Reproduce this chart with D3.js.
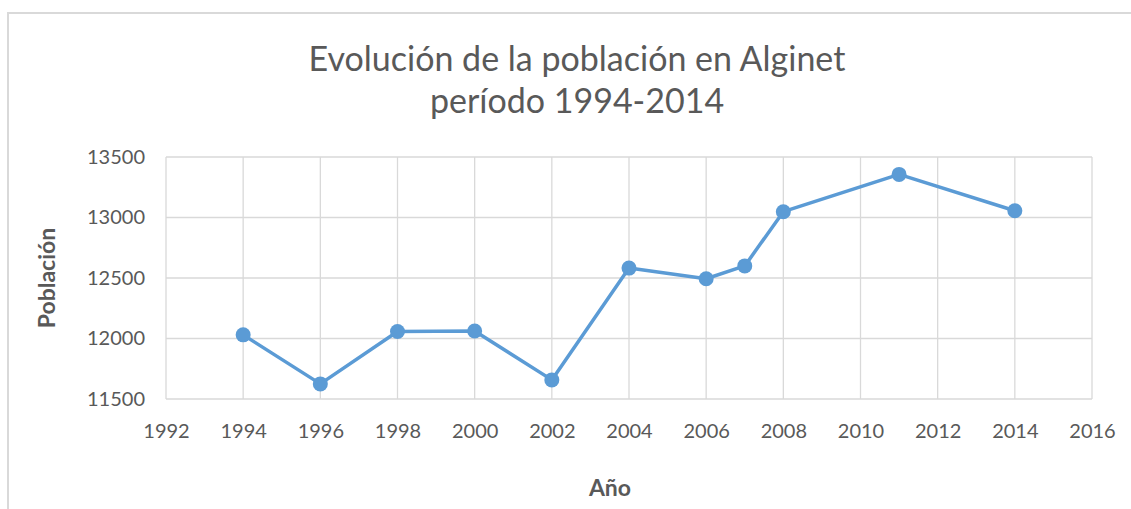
<!DOCTYPE html>
<html lang="es">
<head>
<meta charset="UTF-8">
<title>Evolución de la población en Alginet</title>
<script src="https://d3js.org/d3.v7.min.js"></script>
<style>
    body { margin: 0; background: #fff; }
    svg { display: block; font-family: Lato, "Open Sans", sans-serif; }
    .tick text { fill: #595959; font-size: 20px; font-family: Lato, sans-serif; }
    .axis-title { fill: #595959; font-size: 23px; font-weight: bold; }
    .chart-title { fill: #595959; font-size: 34px; font-weight: 400; }
</style>
</head>
<body>
<script>
    const years = [1994, 1996, 1998, 2000, 2002, 2004, 2006, 2007, 2008, 2011, 2014];
    const population = [12030, 11625, 12058, 12062, 11658, 12582, 12494, 12600, 13048, 13356, 13056];
    const xTicks = [1992, 1994, 1996, 1998, 2000, 2002, 2004, 2006, 2008, 2010, 2012, 2014, 2016];
    const yTicks = [11500, 12000, 12500, 13000, 13500];
    const titleLines = ['Evolución de la población en Alginet', 'período 1994-2014'];

    const width = 1131;
    const height = 509;
    const margin = {top: 157, right: 39, bottom: 110, left: 166};

    const svg = d3.select('body')
                  .append('svg')
                  .attr('width', width)
                  .attr('height', height);

    // chart frame (only top and left edges show in the picture)
    svg.append('path')
       .attr('d', `M8,${height} V13 H${width}`)
       .attr('fill', 'none')
       .attr('stroke', '#d9d9d9')
       .attr('stroke-width', 2);

    const x = d3.scaleLinear()
                .domain([1992, 2016])
                .range([margin.left, width - margin.right]);

    const y = d3.scaleLinear()
                .domain([11500, 13500])
                .range([height - margin.bottom, margin.top]);

    // gridlines
    svg.append('g')
       .selectAll('line')
       .data(xTicks)
       .join('line')
       .attr('x1', d => x(d)).attr('x2', d => x(d))
       .attr('y1', y(13500)).attr('y2', y(11500))
       .attr('stroke', '#d9d9d9')
       .attr('stroke-width', 1.3);

    svg.append('g')
       .selectAll('line')
       .data(yTicks)
       .join('line')
       .attr('x1', x(1992)).attr('x2', x(2016))
       .attr('y1', d => y(d)).attr('y2', d => y(d))
       .attr('stroke', '#d9d9d9')
       .attr('stroke-width', 1.3);

    // axes (labels only)
    const xAxis = svg.append('g')
       .attr('transform', `translate(0,${y(11500)})`)
       .call(d3.axisBottom(x).tickValues(xTicks).tickFormat(d3.format('d')).tickSize(0).tickPadding(25));
    xAxis.select('.domain').remove();

    const yAxis = svg.append('g')
       .attr('transform', `translate(${x(1992)},0)`)
       .call(d3.axisLeft(y).tickValues(yTicks).tickFormat(d3.format('d')).tickSize(0).tickPadding(21));
    yAxis.select('.domain').remove();
    svg.selectAll('g').attr('font-family', null).attr('font-size', null);

    // line + markers
    const points = years.map((yr, i) => ({year: yr, value: population[i]}));

    svg.append('path')
       .datum(points)
       .attr('fill', 'none')
       .attr('stroke', '#5b9bd5')
       .attr('stroke-width', 3.5)
       .attr('stroke-linejoin', 'round')
       .attr('d', d3.line().x(d => x(d.year)).y(d => y(d.value)));

    svg.append('g')
       .selectAll('circle')
       .data(points)
       .join('circle')
       .attr('cx', d => x(d.year))
       .attr('cy', d => y(d.value))
       .attr('r', 7.5)
       .attr('fill', '#5b9bd5');

    // titles
    svg.append('text')
       .attr('class', 'chart-title')
       .attr('text-anchor', 'middle')
       .selectAll('tspan')
       .data(titleLines)
       .join('tspan')
       .attr('x', 577)
       .attr('y', (d, i) => 71 + i * 42)
       .text(d => d);

    svg.append('text')
       .attr('class', 'axis-title')
       .attr('text-anchor', 'middle')
       .attr('transform', `translate(55,${(y(11500) + y(13500)) / 2}) rotate(-90)`)
       .text('Población');

    svg.append('text')
       .attr('class', 'axis-title')
       .attr('text-anchor', 'middle')
       .attr('x', 610)
       .attr('y', 496)
       .text('Año');
</script>
</body>
</html>
